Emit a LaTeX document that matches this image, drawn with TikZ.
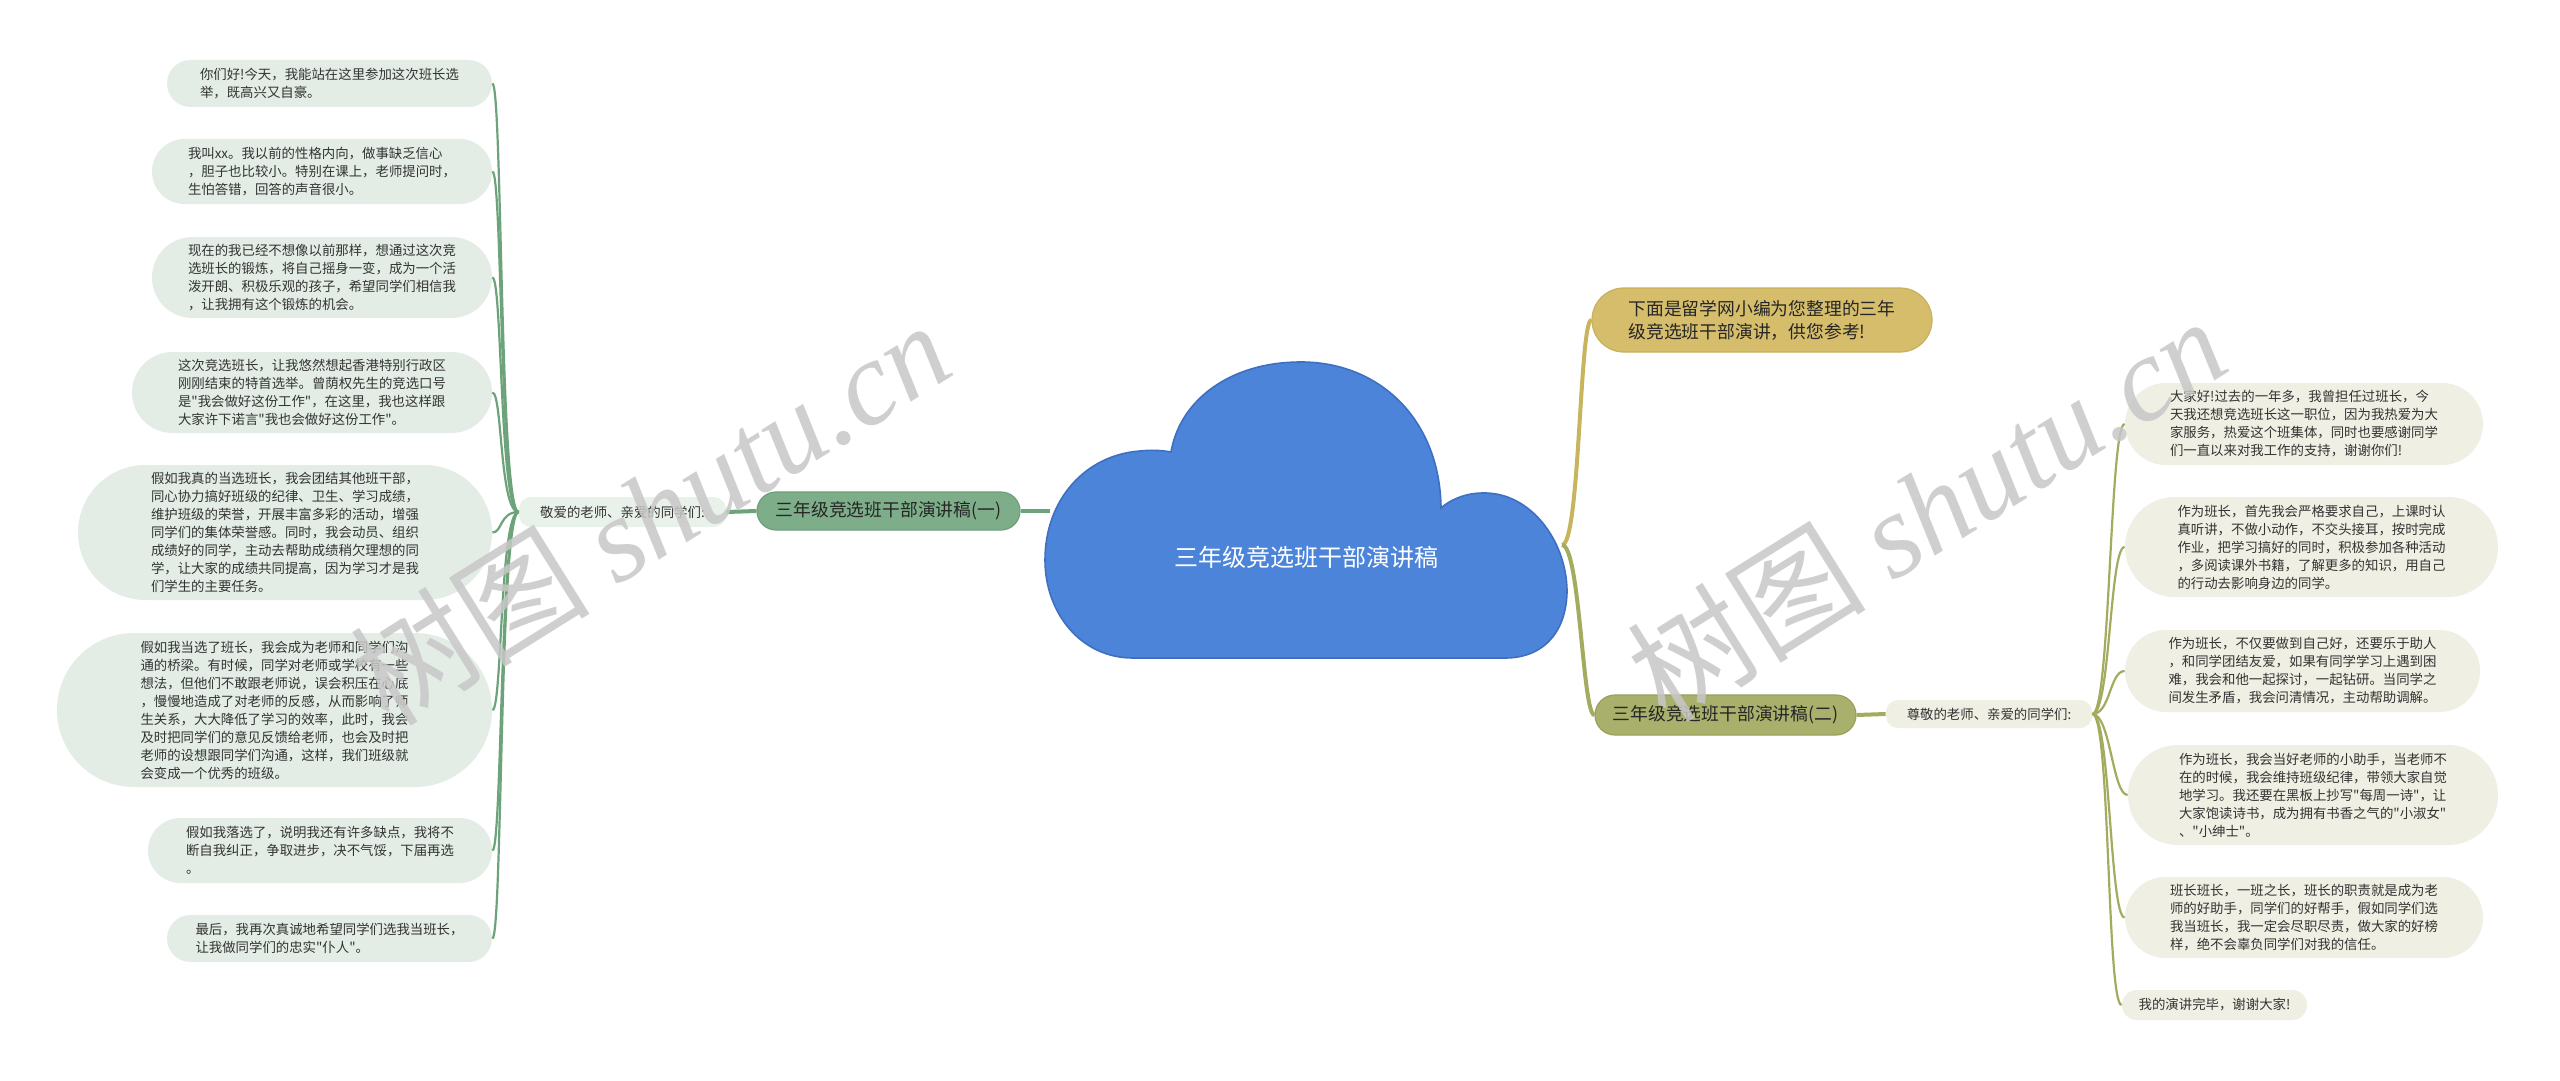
\documentclass[tikz,border=0pt]{standalone}
\usepackage{fontspec}
\setmainfont{Noto Sans CJK SC}
\newfontfamily\cjk{Noto Sans CJK SC}
\newfontfamily\wmlat{Liberation Serif}
\usetikzlibrary{shapes.misc}
\definecolor{leafLfill}{HTML}{E3EDE6}
\definecolor{leafRfill}{HTML}{EFEFE3}
\definecolor{subAfill}{HTML}{7DAE89}
\definecolor{subAdraw}{HTML}{6E9E7A}
\definecolor{subBfill}{HTML}{A9B06B}
\definecolor{subBdraw}{HTML}{99A05B}
\definecolor{introfill}{HTML}{D5BD6B}
\definecolor{introdraw}{HTML}{C8B05C}
\definecolor{lineA}{HTML}{6DA37A}
\definecolor{lineB}{HTML}{A3AB5F}
\definecolor{lineC}{HTML}{C8B45C}
\definecolor{cloudfill}{HTML}{4C84DA}
\definecolor{clouddraw}{HTML}{3E6FC0}
\definecolor{txt}{HTML}{333333}
\begin{document}
\begin{tikzpicture}[x=0.5pt,y=-0.5pt,
  leafL/.style={rounded rectangle, fill=leafLfill, inner sep=0pt, align=left, text=txt, font=\cjk\fontsize{6.7pt}{9pt}\selectfont},
  leafR/.style={rounded rectangle, fill=leafRfill, inner sep=0pt, align=left, text=txt, font=\cjk\fontsize{6.7pt}{9pt}\selectfont},
  subA/.style={rounded rectangle, fill=subAfill, draw=subAdraw, line width=0.6pt, inner sep=0pt, text=black!85, font=\cjk\fontsize{8.9pt}{11.5pt}\selectfont},
  subB/.style={rounded rectangle, fill=subBfill, draw=subBdraw, line width=0.6pt, inner sep=0pt, text=black!85, font=\cjk\fontsize{8.9pt}{11.5pt}\selectfont},
  intro/.style={rounded rectangle, fill=introfill, draw=introdraw, line width=0.6pt, inner sep=0pt, align=left, text=black!85, font=\cjk\fontsize{8.9pt}{11.5pt}\selectfont},
  greetA/.style={rectangle, rounded corners=6pt, fill=leafLfill!80!white, inner sep=0pt, text=txt, font=\cjk\fontsize{6.7pt}{9pt}\selectfont},
  greetB/.style={rectangle, rounded corners=6pt, fill=leafRfill, inner sep=0pt, text=txt, font=\cjk\fontsize{6.7pt}{9pt}\selectfont},
  conA/.style={draw=lineA, line width=1.1pt},
  conB/.style={draw=lineB, line width=1.1pt},
  mainA/.style={draw=lineA, line width=2pt},
  mainB/.style={draw=lineB, line width=2pt},
  mainC/.style={draw=lineC, line width=2pt},
  wm/.style={text=black!22, opacity=0.85, inner sep=0pt}
]
\useasboundingbox (0,0) rectangle (2560,1081);
\fill[white] (0,0) rectangle (2560,1081);

% ---------- left leaves ----------
\node[leafL, minimum width=162.5pt, minimum height=23.5pt] (L1) at (329.5,83.5) {你们好!今天，我能站在这里参加这次班长选\\举，既高兴又自豪。};
\node[leafL, minimum width=170pt, minimum height=32.5pt] (L2) at (322,171.5) {我叫xx。我以前的性格内向，做事缺乏信心\\，胆子也比较小。特别在课上，老师提问时，\\生怕答错，回答的声音很小。};
\node[leafL, minimum width=170pt, minimum height=40.5pt] (L3) at (322,277.5) {现在的我已经不想像以前那样，想通过这次竞\\选班长的锻炼，将自己摇身一变，成为一个活\\泼开朗、积极乐观的孩子，希望同学们相信我\\，让我拥有这个锻炼的机会。};
\node[leafL, minimum width=180pt, minimum height=40.5pt] (L4) at (312,392.5) {这次竞选班长，让我悠然想起香港特别行政区\\刚刚结束的特首选举。曾荫权先生的竞选口号\\是"我会做好这份工作"，在这里，我也这样跟\\大家许下诺言"我也会做好这份工作"。};
\node[leafL, minimum width=207pt, minimum height=67.5pt] (L5) at (285,532.5) {假如我真的当选班长，我会团结其他班干部，\\同心协力搞好班级的纪律、卫生、学习成绩，\\维护班级的荣誉，开展丰富多彩的活动，增强\\同学们的集体荣誉感。同时，我会动员、组织\\成绩好的同学，主动去帮助成绩稍欠理想的同\\学，让大家的成绩共同提高，因为学习才是我\\们学生的主要任务。};
\node[leafL, minimum width=217.5pt, minimum height=77pt] (L6) at (274.5,710) {假如我当选了班长，我会成为老师和同学们沟\\通的桥梁。有时候，同学对老师或学校有一些\\想法，但他们不敢跟老师说，误会积压在心底\\，慢慢地造成了对老师的反感，从而影响了师\\生关系，大大降低了学习的效率，此时，我会\\及时把同学们的意见反馈给老师，也会及时把\\老师的设想跟同学们沟通，这样，我们班级就\\会变成一个优秀的班级。};
\node[leafL, minimum width=172pt, minimum height=32.5pt] (L7) at (320,850.5) {假如我落选了，说明我还有许多缺点，我将不\\断自我纠正，争取进步，决不气馁，下届再选\\。};
\node[leafL, minimum width=162.5pt, minimum height=23.5pt] (L8) at (329.5,938.5) {最后，我再次真诚地希望同学们选我当班长，\\让我做同学们的忠实"仆人"。};

% ---------- left middle ----------
\node[greetA, minimum width=103.5pt, minimum height=15pt] (jing) at (622.5,512) {敬爱的老师、亲爱的同学们:};
\node[subA, minimum width=131.5pt, minimum height=19pt] (subA) at (888.5,511) {三年级竞选班干部演讲稿(一)};

% ---------- right ----------
\node[intro, minimum width=170pt, minimum height=32pt] (intro) at (1762,320) {下面是留学网小编为您整理的三年\\级竞选班干部演讲，供您参考!};
\node[subB, minimum width=130.5pt, minimum height=20pt] (subB) at (1725.5,715) {三年级竞选班干部演讲稿(二)};
\node[greetB, minimum width=103pt, minimum height=14pt] (zun) at (1989,714) {尊敬的老师、亲爱的同学们:};

\node[leafR, minimum width=179pt, minimum height=41pt] (R1) at (2304,424) {大家好!过去的一年多，我曾担任过班长，今\\天我还想竞选班长这一职位，因为我热爱为大\\家服务，热爱这个班集体，同时也要感谢同学\\们一直以来对我工作的支持，谢谢你们!};
\node[leafR, minimum width=186.5pt, minimum height=50pt] (R2) at (2311.5,547) {作为班长，首先我会严格要求自己，上课时认\\真听讲，不做小动作，不交头接耳，按时完成\\作业，把学习搞好的同时，积极参加各种活动\\，多阅读课外书籍，了解更多的知识，用自己\\的行动去影响身边的同学。};
\node[leafR, minimum width=177.5pt, minimum height=41pt] (R3) at (2302.5,671) {作为班长，不仅要做到自己好，还要乐于助人\\，和同学团结友爱，如果有同学学习上遇到困\\难，我会和他一起探讨，一起钻研。当同学之\\间发生矛盾，我会问清情况，主动帮助调解。};
\node[leafR, minimum width=185pt, minimum height=50pt] (R4) at (2313,795) {作为班长，我会当好老师的小助手，当老师不\\在的时候，我会维持班级纪律，带领大家自觉\\地学习。我还要在黑板上抄写"每周一诗"，让\\大家饱读诗书，成为拥有书香之气的"小淑女"\\、"小绅士"。};
\node[leafR, minimum width=179pt, minimum height=40.5pt] (R5) at (2304,917.5) {班长班长，一班之长，班长的职责就是成为老\\师的好助手，同学们的好帮手，假如同学们选\\我当班长，我一定会尽职尽责，做大家的好榜\\样，绝不会辜负同学们对我的信任。};
\node[leafR, minimum width=92.5pt, minimum height=15pt] (R6) at (2214.5,1005) {我的演讲完毕，谢谢大家!};

% ---------- connectors ----------
\coordinate (rootW) at (1050,511);
\coordinate (rootE) at (1562,545);
\foreach \n in {L1,L2,L3,L4,L5,L6,L7,L8}
  \draw[conA] (jing.west) .. controls +(-19,0) and +(10,0) .. (\n.east);
\foreach \n in {R1,R2,R3,R4,R5,R6}
  \draw[conB] (zun.east) .. controls +(18,0) and +(-15,0) .. (\n.west);
\draw[mainA] (jing.east) -- (subA.west);
\draw[mainA] (subA.east) -- (rootW);
\draw[mainC] (rootE) .. controls +(18,0) and +(-12,0) .. (intro.west);
\draw[mainB] (rootE) .. controls +(18,0) and +(-12,0) .. (subB.west);
\draw[mainB] (subB.east) -- (zun.west);

% ---------- cloud ----------
\path[fill=cloudfill, draw=clouddraw, line width=0.8pt]
  (1133,658) -- (1505,658)
  .. controls (1545,658) and (1567,630) .. (1567,590)
  .. controls (1566,540) and (1530,492) .. (1483,493)
  .. controls (1465,493) and (1450,500) .. (1441,508)
  .. controls (1440,420) and (1380,362) .. (1301,362)
  .. controls (1230,362) and (1180,400) .. (1171,452)
  .. controls (1160,450) and (1150,450) .. (1140,451)
  .. controls (1085,455) and (1045,500) .. (1045,560)
  .. controls (1045,612) and (1080,658) .. (1133,658) -- cycle;
\node[text=white, font=\cjk\fontsize{12pt}{14pt}\selectfont] (root) at (1306,557) {三年级竞选班干部演讲稿};

% ---------- watermark ----------
\node[wm, rotate=32] (wmA) at (650,512) {\cjk\fontsize{60pt}{60pt}\selectfont 树图 {\wmlat\itshape shutu.cn}};
\node[wm, rotate=32] (wmB) at (1926,508) {\cjk\fontsize{60pt}{60pt}\selectfont 树图 {\wmlat\itshape shutu.cn}};
\end{tikzpicture}
\end{document}
